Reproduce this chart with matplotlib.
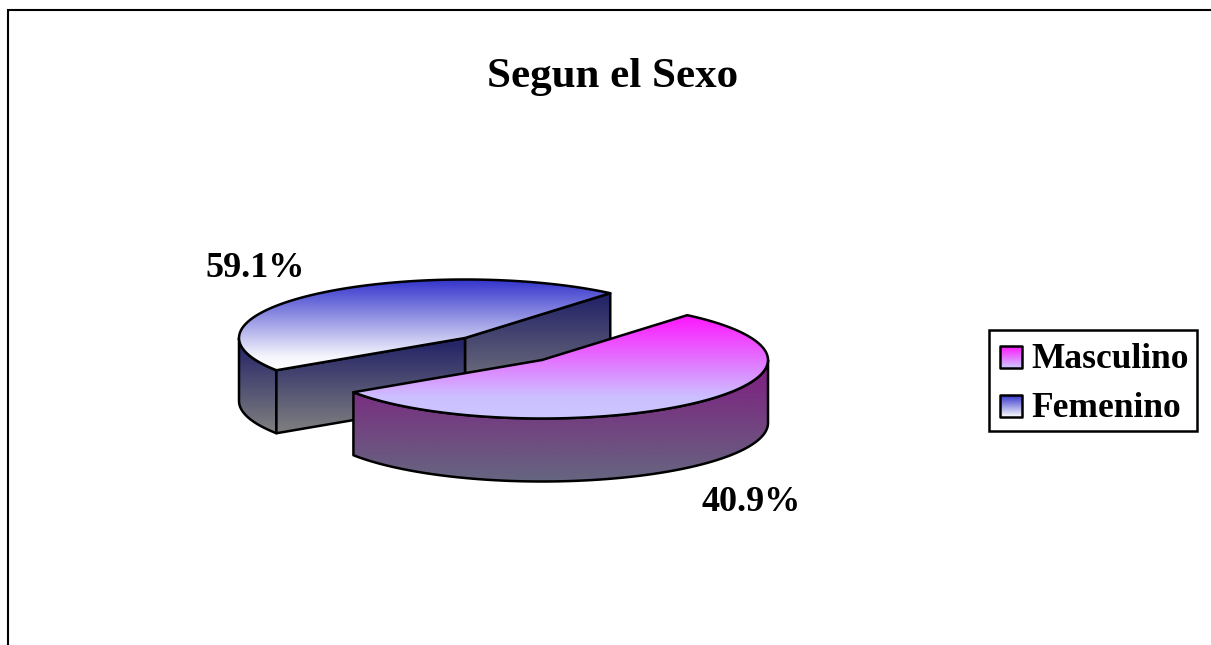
import numpy as np
import matplotlib
matplotlib.use("Agg")
import matplotlib.pyplot as plt
from matplotlib.colors import LinearSegmentedColormap, to_rgb
from matplotlib.patches import Polygon, Rectangle

TITLE = "Segun el Sexo"
categories = ["Masculino", "Femenino"]
# The printed labels and the drawn slice sizes differ in the original chart.
value_labels = ["40.9%", "59.1%"]
drawn_share = [54.6, 45.4]

plt.rcParams["font.family"] = ["Liberation Serif", "DejaVu Serif"]
plt.rcParams["font.weight"] = "bold"
plt.rcParams["text.kerning_factor"] = 6

W, H = 1211, 645
fig = plt.figure(figsize=(W / 100, H / 100), dpi=100, facecolor="white")
ax = fig.add_axes([0, 0, 1, 1])
LW = 1.8

RX, RY, DEPTH = 226, 58.5, 63
START = 50.0
sweep = [s / sum(drawn_share) * 360 for s in drawn_share]


def ell(c, t, dy=0.0):
    t = np.radians(t)
    return np.column_stack([c[0] + RX * np.cos(t), c[1] - RY * np.sin(t) + dy])


def grad_poly(pts, stops, y0=None, y1=None, z=2):
    pts = np.asarray(pts)
    y0 = pts[:, 1].min() if y0 is None else y0
    y1 = pts[:, 1].max() if y1 is None else y1
    cmap = LinearSegmentedColormap.from_list("g", [(p, to_rgb(c)) for p, c in stops])
    g = np.linspace(0, 1, 256)[:, None]
    patch = Polygon(pts, closed=True, fc="none", ec="black", lw=LW, joinstyle="round", zorder=z + 0.1)
    ax.add_patch(patch)
    im = ax.imshow(g, cmap=cmap, vmin=0, vmax=1, aspect="auto", zorder=z,
                   extent=[pts[:, 0].min(), pts[:, 0].max(), y1, y0], interpolation="bilinear")
    im.set_clip_path(patch)


# Femenino, the rear slice
cf = (465, 338)
f_end = START + sweep[1]
f_arc = np.linspace(START, f_end, 120)
f_top = np.vstack([[cf], ell(cf, f_arc)])
F_TOP = [(0, "#3333cc"), (0.85, "#f4f4fc"), (1, "#ffffff")]
F_SIDE = [(0, "#1f1f66"), (1, "#808080")]
p_start = ell(cf, np.array([START]))[0]
p_end = ell(cf, np.array([f_end]))[0]
grad_poly([cf, p_start, p_start + [0, DEPTH], (cf[0], cf[1] + DEPTH)], F_SIDE, z=2)
back_arc = np.linspace(180, f_end, 40)
grad_poly(np.vstack([ell(cf, back_arc), ell(cf, back_arc[::-1], DEPTH)]), F_SIDE, cf[1], cf[1] + 95, z=3)
grad_poly([cf, p_end, p_end + [0, DEPTH], (cf[0], cf[1] + DEPTH)], F_SIDE, z=4)
grad_poly(f_top, F_TOP, z=5)

# Masculino, the exploded front slice
cm = (542, 360)
m_end = START - sweep[0]
m_arc = np.linspace(START, m_end, 160)
m_top = np.vstack([[cm], ell(cm, m_arc)])
side_arc = np.linspace(0, m_end, 120)
M_TOP = [(0, "#ff14ff"), (0.8, "#ccc0ff"), (1, "#ccc6ff")]
M_SIDE = [(0, "#801a80"), (1, "#666680")]
grad_poly(np.vstack([ell(cm, side_arc), ell(cm, side_arc[::-1], DEPTH)]), M_SIDE, z=6)
grad_poly(m_top, M_TOP, z=7)

# Frame of the chart area (open on the right and at the bottom)
ax.plot([8, 8, W], [H, 10, 10], color="black", lw=1.5, zorder=1, solid_joinstyle="miter")

# Title and value labels
ax.text(613, 87, TITLE, fontsize=31, fontweight="bold", ha="center", va="baseline")
ax.text(751, 511, value_labels[0], fontsize=26, fontweight="bold", ha="center", va="baseline", zorder=9)
ax.text(255, 277, value_labels[1], fontsize=26, fontweight="bold", ha="center", va="baseline", zorder=9)

# Legend
ax.add_patch(Rectangle((989, 330), 208, 101, fc="white", ec="black", lw=LW, zorder=8))
swatches = [(0, "#ff14ff"), (1, "#ccccff")], [(0, "#3333cc"), (1, "#ffffff")]
for name, y, stops in zip(categories, [357, 406], swatches):
    grad_poly([(1000, y - 11), (1022, y - 11), (1022, y + 11), (1000, y + 11)], stops, z=9)
    ax.text(1031, y + 11, name, fontsize=25.5, fontweight="bold", ha="left", va="baseline", zorder=9)

ax.set_xlim(0, W)
ax.set_ylim(H, 0)
ax.axis("off")
fig.savefig("out.png", dpi=100, facecolor="white")
